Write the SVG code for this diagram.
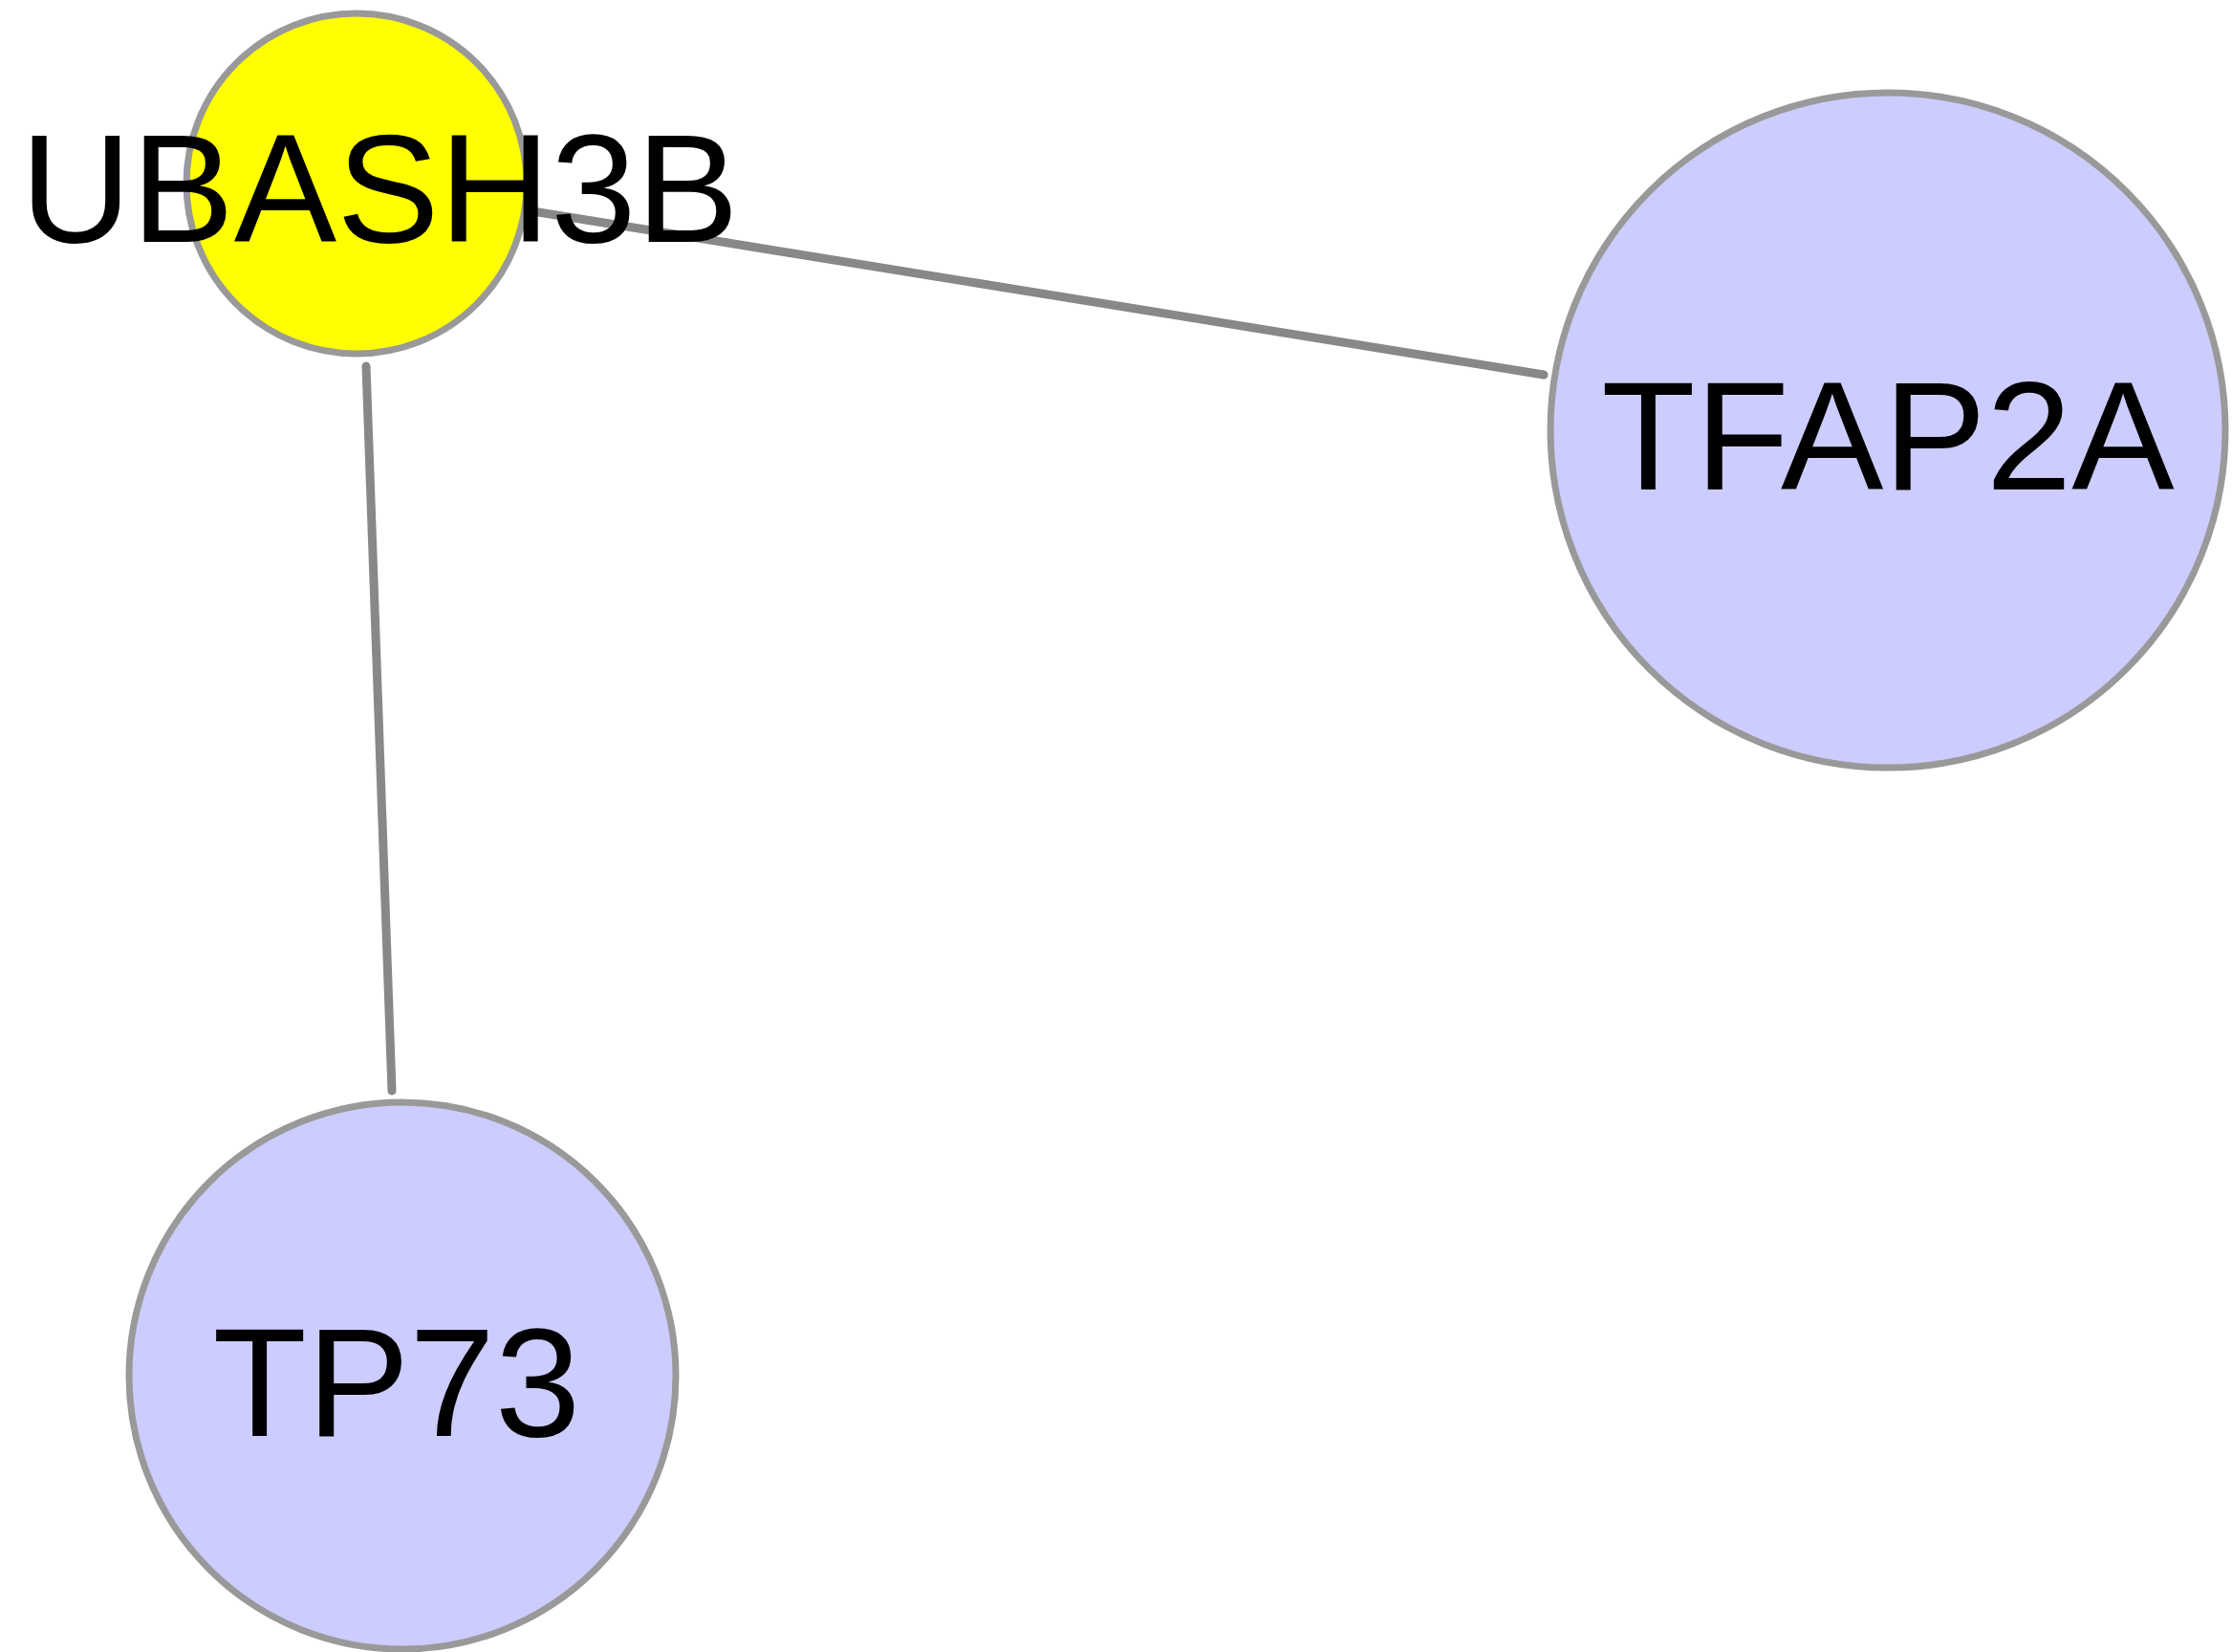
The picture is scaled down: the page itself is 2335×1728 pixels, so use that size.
<svg xmlns="http://www.w3.org/2000/svg" width="2335" height="1728" viewBox="0 0 2335 1728">
<style>
.edge{stroke:#888888;stroke-width:9;stroke-linecap:round;fill:none}
.node{stroke:#999999;stroke-width:7}
.label{font-family:"Liberation Sans",Arial,sans-serif;font-size:161px;fill:#000000;text-anchor:middle}
</style>
<rect width="2335" height="1728" fill="#ffffff"/>
<g id="edges">
<line class="edge" x1="551" y1="220" x2="1615" y2="392"/>
<line class="edge" x1="383" y1="383" x2="410" y2="1141"/>
</g>
<g id="node-UBASH3B">
<circle class="node" cx="373" cy="192" r="178" fill="#ffff00"/>
<text class="label" x="397" y="253">UBASH3B</text>
</g>
<g id="node-TFAP2A">
<circle class="node" cx="1975" cy="450" r="353" fill="#ccccff"/>
<text class="label" x="1975" y="512">TFAP2A</text>
</g>
<g id="node-TP73">
<circle class="node" cx="421" cy="1439" r="286" fill="#ccccff"/>
<text class="label" x="415" y="1502">TP73</text>
</g>
</svg>
